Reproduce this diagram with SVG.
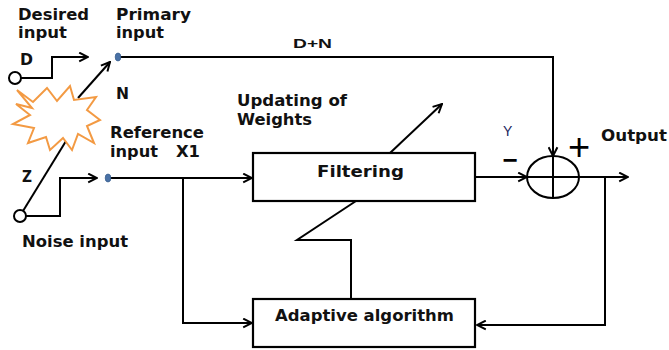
<svg xmlns="http://www.w3.org/2000/svg" width="669" height="350" viewBox="0 0 669 350">
  <style>
    .ln { fill: none; stroke: #000; stroke-width: 2; stroke-linejoin: miter; }
    .box { fill: #fff; stroke: #000; stroke-width: 2.2; }
    .lbl { font-family: "DejaVu Sans", Verdana, sans-serif; font-weight: bold; font-size: 15px; fill: #111; }
    .sm { font-family: "Liberation Sans", Arial, sans-serif; font-weight: bold; font-size: 13px; fill: #111; }
    .port { fill: #4a72a6; stroke: #3a5f8f; stroke-width: 0.8; }
  </style>
  <defs>
    <marker id="arr" viewBox="0 0 10 10" refX="9" refY="5" markerWidth="11" markerHeight="11" markerUnits="userSpaceOnUse" orient="auto">
      <path d="M1,1 L9,5 L1,9" fill="none" stroke="#000" stroke-width="1.8"/>
    </marker>
  </defs>
  <rect width="669" height="350" fill="#fff"/>

  <!-- connectors -->
  <g id="connectors">
    <path class="ln" d="M21,78 H52 V57 H88" marker-end="url(#arr)"/>
    <path class="ln" d="M118,57 H553 V156" marker-end="url(#arr)"/>
    <path class="ln" d="M78,98 L110,62" marker-end="url(#arr)"/>
    <path class="ln" d="M23,211 L74,128"/>
    <path class="ln" d="M26,216 H60 V178 H97" marker-end="url(#arr)"/>
    <path class="ln" d="M108,178 H252" marker-end="url(#arr)"/>
    <path class="ln" d="M183,178 V323 H252" marker-end="url(#arr)"/>
    <path class="ln" d="M475,177 H527" marker-end="url(#arr)"/>
    <path class="ln" d="M579,177 H628" marker-end="url(#arr)"/>
    <path class="ln" d="M605,177 V325 H477" marker-end="url(#arr)"/>
    <path class="ln" d="M351,299 V240 H297 L356,201"/>
    <path class="ln" d="M390,153 L442,104" marker-end="url(#arr)"/>
  </g>

  <!-- noise burst -->
  <g id="noise-burst">
    <polygon points="17,90 33,102 47,88 57,101 70,86 74,100 96,97 87,110 100,120 87,126 94,143 78,134 72,150 63,138 50,150 46,137 28,143 34,128 13,124 30,115 16,104 32,108" fill="#fff" stroke="#f39a43" stroke-width="2" stroke-linejoin="miter"/>
  </g>

  <g id="desired-input">
    <circle cx="15" cy="78" r="6" fill="#fff" stroke="#000" stroke-width="2"/>
    <text class="lbl" x="18" y="20" textLength="71" lengthAdjust="spacingAndGlyphs">Desired</text>
    <text class="lbl" x="18" y="38" textLength="49" lengthAdjust="spacingAndGlyphs">input</text>
    <text class="lbl" x="20" y="65" textLength="13" lengthAdjust="spacingAndGlyphs">D</text>
  </g>

  <g id="primary-input">
    <ellipse class="port" cx="118" cy="57" rx="2.8" ry="4"/>
    <text class="lbl" x="116" y="20" textLength="75" lengthAdjust="spacingAndGlyphs">Primary</text>
    <text class="lbl" x="116" y="38" textLength="48" lengthAdjust="spacingAndGlyphs">input</text>
    <text class="lbl" x="116" y="99" textLength="13" lengthAdjust="spacingAndGlyphs">N</text>
    <text class="sm" x="293" y="48" textLength="39" lengthAdjust="spacingAndGlyphs">D+N</text>
  </g>

  <g id="reference-input">
    <ellipse class="port" cx="108" cy="178" rx="2.8" ry="4"/>
    <text class="lbl" x="110" y="138" textLength="94" lengthAdjust="spacingAndGlyphs">Reference</text>
    <text class="lbl" x="110" y="157" textLength="48" lengthAdjust="spacingAndGlyphs">input</text>
    <text class="lbl" x="176" y="157" textLength="24" lengthAdjust="spacingAndGlyphs">X1</text>
  </g>

  <g id="noise-input">
    <circle cx="20" cy="216" r="6" fill="#fff" stroke="#000" stroke-width="2"/>
    <text class="lbl" x="22" y="182" font-size="12" textLength="10" lengthAdjust="spacingAndGlyphs">Z</text>
    <text class="lbl" x="22" y="247" textLength="106" lengthAdjust="spacingAndGlyphs">Noise input</text>
  </g>

  <g id="filtering">
    <rect class="box" x="253" y="153" width="222" height="48"/>
    <text class="lbl" x="317" y="177" font-size="17" textLength="87" lengthAdjust="spacingAndGlyphs">Filtering</text>
  </g>

  <g id="weights-label">
    <text class="lbl" x="237" y="106" textLength="110" lengthAdjust="spacingAndGlyphs">Updating of</text>
    <text class="lbl" x="237" y="125" textLength="75" lengthAdjust="spacingAndGlyphs">Weights</text>
  </g>

  <g id="adaptive-algorithm">
    <rect class="box" x="253" y="299" width="222" height="48"/>
    <text class="lbl" x="275" y="321" textLength="179" lengthAdjust="spacingAndGlyphs">Adaptive algorithm</text>
  </g>

  <g id="summing-junction">
    <ellipse cx="553" cy="177" rx="26" ry="21" fill="none" stroke="#000" stroke-width="2"/>
    <path class="ln" d="M527,177 H579 M553,156 V198"/>
    <text x="503" y="136" font-family="Liberation Sans, Arial, sans-serif" font-size="14" fill="#1a2660">Y</text>
    <text x="579" y="160" text-anchor="middle" font-family="Liberation Sans, Arial, sans-serif" font-size="38" fill="#000">+</text>
    <text x="510" y="169" text-anchor="middle" font-family="Liberation Sans, Arial, sans-serif" font-weight="bold" font-size="26" fill="#000">−</text>
  </g>

  <g id="output">
    <text class="lbl" x="601" y="141" textLength="66" lengthAdjust="spacingAndGlyphs">Output</text>
  </g>
</svg>
